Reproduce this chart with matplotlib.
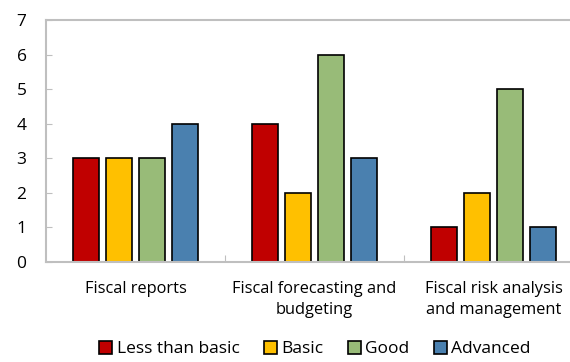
import numpy as np
import matplotlib.pyplot as plt

categories = ["Fiscal reports", "Fiscal forecasting and\nbudgeting", "Fiscal risk analysis\nand management"]
series = ["Less than basic", "Basic", "Good", "Advanced"]
less_than_basic = [3, 4, 1]
basic = [3, 2, 2]
good = [3, 6, 5]
advanced = [4, 3, 1]
colors = ["#C00000", "#FFC000", "#98BB78", "#4A80AF"]

plt.rcParams['font.family'] = ['Open Sans', 'DejaVu Sans']

fig = plt.figure(figsize=(5.7, 3.62), dpi=100)
# plot area runs past the right edge of the picture, like the original
ax = fig.add_axes([46 / 570, 1 - 262 / 362, 537 / 570, 242 / 362])

x = np.arange(len(categories))
step = 0.184
width = 0.145
for i, (vals, col, name) in enumerate(zip([less_than_basic, basic, good, advanced], colors, series)):
    ax.bar(x + (i - 1.5) * step, vals, width, color=col, edgecolor="black", linewidth=1.2, label=name)

ax.set_xlim(-0.5, 2.5)
ax.set_ylim(0, 7)
ax.set_yticks(range(0, 8))
ax.set_xticks([0.5, 1.5])
ax.set_xticklabels([])
ax.tick_params(axis="y", direction="in", length=4, color="#BFBFBF", labelsize=12.5, pad=14)
ax.tick_params(axis="x", direction="in", length=5, color="#BFBFBF")
for s in ["left", "bottom", "top"]:
    ax.spines[s].set_color("#BFBFBF")
    ax.spines[s].set_linewidth(1.5)
ax.spines["right"].set_visible(False)

for xi, cat in zip(x, categories):
    ax.text(xi, -0.55, cat, ha="center", va="top", fontsize=11.8, linespacing=1.45)

fig.legend(loc="lower center", bbox_to_anchor=(315 / 570, -0.03), ncol=4, frameon=False,
           fontsize=12.5, handlelength=0.75, handleheight=0.75, handletextpad=0.25, columnspacing=1.4)

fig.savefig("out.png", dpi=100)
